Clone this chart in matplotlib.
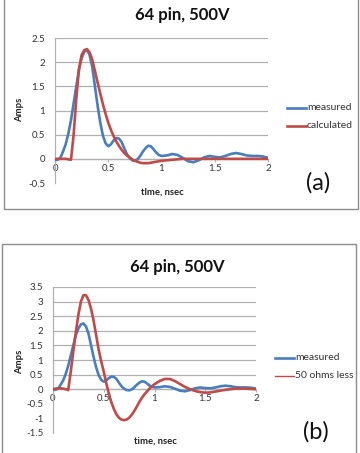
import matplotlib
matplotlib.use("Agg")
import matplotlib.pyplot as plt
from matplotlib.patches import Rectangle

# ---- data ----
time_ns = [0, 0.025, 0.05, 0.075, 0.1, 0.125, 0.15, 0.175, 0.2, 0.225, 0.25, 0.275,
           0.3, 0.325, 0.35, 0.375, 0.4, 0.425, 0.45, 0.475, 0.5, 0.525, 0.55, 0.575,
           0.6, 0.625, 0.65, 0.675, 0.7, 0.725, 0.75, 0.775, 0.8, 0.825, 0.85, 0.875,
           0.9, 0.925, 0.95, 0.975, 1.0, 1.05, 1.1, 1.15, 1.2, 1.25, 1.3, 1.35, 1.4,
           1.45, 1.5, 1.55, 1.6, 1.65, 1.7, 1.75, 1.8, 1.85, 1.9, 1.95, 2.0]

measured = [-0.02, -0.02, 0.02, 0.15, 0.3, 0.52, 0.8, 1.15, 1.5, 1.85, 2.08, 2.22,
            2.25, 2.15, 1.9, 1.5, 1.1, 0.75, 0.48, 0.32, 0.26, 0.3, 0.38, 0.43,
            0.42, 0.35, 0.22, 0.1, 0.02, -0.03, -0.04, -0.01, 0.06, 0.15, 0.22, 0.27,
            0.26, 0.2, 0.13, 0.08, 0.06, 0.07, 0.1, 0.08, 0.02, -0.05, -0.07, -0.03, 0.03,
            0.06, 0.04, 0.03, 0.06, 0.1, 0.12, 0.1, 0.07, 0.06, 0.06, 0.05, 0.02]

calculated = [0.0, 0.0, 0.0, 0.0, 0.0, -0.01, -0.02, 0.5, 1.25, 1.85, 2.15, 2.25,
              2.27, 2.2, 2.05, 1.82, 1.58, 1.35, 1.13, 0.93, 0.75, 0.6, 0.47, 0.36,
              0.27, 0.19, 0.12, 0.07, 0.03, -0.01, -0.04, -0.06, -0.08, -0.09, -0.09, -0.09,
              -0.08, -0.07, -0.06, -0.05, -0.04, -0.03, -0.02, -0.01, 0.0, 0.0, 0.0, 0.0, 0.0,
              0.0, 0.0, 0.0, 0.0, 0.0, 0.0, 0.0, 0.0, 0.0, 0.0, 0.0, 0.0]

ohms_less = [0.0, 0.02, 0.03, 0.03, 0.02, 0.0, -0.03, 0.6, 1.3, 1.95, 2.55, 3.0,
             3.22, 3.22, 3.05, 2.75, 2.35, 1.85, 1.35, 0.95, 0.6, 0.2, -0.15, -0.45,
             -0.68, -0.86, -0.98, -1.04, -1.06, -1.04, -0.98, -0.88, -0.75, -0.6, -0.44, -0.3,
             -0.18, -0.08, 0.02, 0.1, 0.17, 0.28, 0.35, 0.35, 0.28, 0.18, 0.08, 0.0, -0.06,
             -0.1, -0.12, -0.11, -0.08, -0.05, -0.02, 0.0, 0.02, 0.02, 0.02, 0.01, 0.0]

title = "64 pin, 500V"
xlabel_a = "tlme, nsec"
xlabel_b = "time, nsec"
ylabel = "Amps"
x_ticks = [0, 0.5, 1, 1.5, 2]
x_ticklabels = ["0", "0.5", "1", "1.5", "2"]
y_ticks_a = [-0.5, 0, 0.5, 1, 1.5, 2, 2.5]
y_ticklabels_a = ["-0.5", "0", "0.5", "1", "1.5", "2", "2.5"]
y_ticks_b = [-1.5, -1, -0.5, 0, 0.5, 1, 1.5, 2, 2.5, 3, 3.5]
y_ticklabels_b = ["-1.5", "-1", "-0.5", "0", "0.5", "1", "1.5", "2", "2.5", "3", "3.5"]

BLUE = "#4a7ebb"
RED = "#be4b48"
GRID = "#b0b0b0"
FONT = ["Lato", "DejaVu Sans"]

plt.rcParams["font.family"] = FONT

W, H = 360, 453
fig = plt.figure(figsize=(W / 100, H / 100), dpi=100)


def fx(px):
    return px / W


def fy(py):
    return 1 - py / H


def panel(ax, y2, y2label, yt, ytl, ylim, xlab, xlab_y, title_y, title_x, amps_y,
          leg_y1, leg_y2, leg_x, red_leg_lw, tag, tag_x, tag_y):
    ax.set_xlim(0, 2)
    ax.set_ylim(*ylim)
    for v in yt:
        if v >= 0:
            ax.axhline(v, color=GRID, lw=0.9, zorder=0)
    ax.plot(time_ns, measured, color=BLUE, lw=1.9, solid_capstyle="round", zorder=3)
    ax.plot(time_ns, y2, color=RED, lw=1.9, solid_capstyle="round", zorder=3)
    for s in ["top", "right"]:
        ax.spines[s].set_visible(False)
    ax.spines["left"].set_color(GRID)
    ax.spines["left"].set_linewidth(0.9)
    ax.spines["bottom"].set_position(("data", 0))
    ax.spines["bottom"].set_color(GRID)
    ax.spines["bottom"].set_linewidth(0.9)
    ax.set_xticks(x_ticks)
    ax.set_xticklabels(x_ticklabels)
    ax.set_yticks(yt)
    ax.set_yticklabels(ytl)
    ax.tick_params(axis="x", length=2.5, color=GRID, labelsize=7, pad=1, labelcolor="#333333")
    ax.tick_params(axis="y", length=0, labelsize=7, pad=7, labelcolor="#333333")
    for lbl in ax.get_yticklabels():
        lbl.set_horizontalalignment("right")
    ax.patch.set_alpha(0)
    fig.text(title_x, title_y, title, ha="center", va="center", fontsize=12,
             fontweight="bold", color="#111111")
    fig.text(xlab[1], xlab_y, xlab[0], ha="center", va="center", fontsize=6.8,
             fontweight="bold", color="#222222")
    fig.text(fx(20), amps_y, ylabel, ha="center", va="center", rotation=90,
             fontsize=6.8, fontweight="bold", color="#222222")
    fig.lines.append(plt.Line2D([fx(leg_x), fx(leg_x + 19)], [leg_y1, leg_y1],
                                transform=fig.transFigure, color=BLUE, lw=1.9))
    fig.lines.append(plt.Line2D([fx(leg_x), fx(leg_x + 19)], [leg_y2, leg_y2],
                                transform=fig.transFigure, color=RED, lw=red_leg_lw))
    fig.text(fx(leg_x + 20), leg_y1, "measured", ha="left", va="center",
             fontsize=7.5, color="#333333")
    fig.text(fx(leg_x + 20), leg_y2, y2label, ha="left", va="center",
             fontsize=7.5, color="#333333")
    fig.text(tag_x, tag_y, tag, ha="center", va="center", fontsize=17, color="#111111")


# top panel border
fig.add_artist(Rectangle((fx(4), fy(209)), fx(354), fy(-2) - fy(209),
                         transform=fig.transFigure, fill=False, ec="#8c8c8c", lw=1.0))
# bottom panel border
fig.add_artist(Rectangle((fx(2), fy(456)), fx(354), fy(244) - fy(456),
                         transform=fig.transFigure, fill=False, ec="#8c8c8c", lw=1.0))

ax1 = fig.add_axes([fx(55), fy(183), fx(268 - 55), fy(38) - fy(183)])
panel(ax1, calculated, "calculated", y_ticks_a, y_ticklabels_a, (-0.5, 2.5),
      (xlabel_a, fx(162)), fy(192), fy(15), fx(182), fy(110),
      fy(108), fy(126), 287, 1.9, "(a)", fx(318), fy(183))

ax2 = fig.add_axes([fx(53), fy(433), fx(256 - 53), fy(287) - fy(433)])
panel(ax2, ohms_less, "50 ohms less", y_ticks_b, y_ticklabels_b, (-1.5, 3.5),
      (xlabel_b, fx(155)), fy(441), fy(267), fx(177), fy(362),
      fy(358), fy(376), 275, 1.0, "(b)", fx(316), fy(432))

fig.savefig("out.png", dpi=100)
